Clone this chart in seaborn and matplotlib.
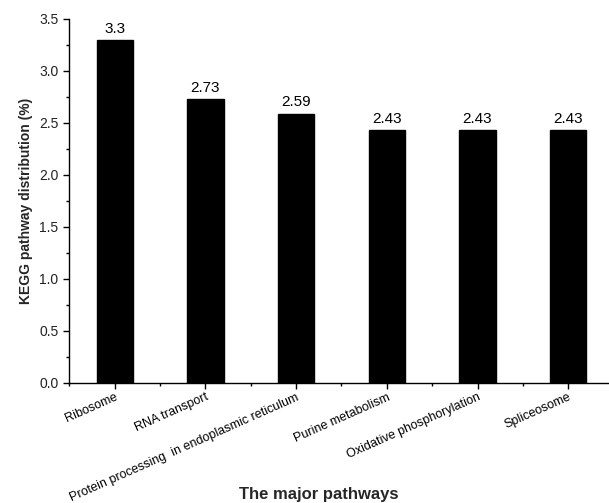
import matplotlib
matplotlib.use("Agg")
import matplotlib.pyplot as plt
import seaborn as sns
import pandas as pd
from matplotlib.ticker import MultipleLocator, FixedLocator

pathways = ["Ribosome", "RNA transport", "Protein processing  in endoplasmic reticulum",
            "Purine metabolism", "Oxidative phosphorylation", "Spliceosome"]
values = [3.3, 2.73, 2.59, 2.43, 2.43, 2.43]
value_labels = ["3.3", "2.73", "2.59", "2.43", "2.43", "2.43"]


def main():
    sns.set_theme(style="ticks")
    plt.rcParams["font.family"] = ["Liberation Sans", "DejaVu Sans"]

    df = pd.DataFrame({"pathway": pathways, "value": values})

    fig = plt.figure(figsize=(6.09, 5.03), dpi=100)
    ax = fig.add_axes([0.114, 0.2386, 0.886, 0.7237])
    sns.barplot(data=df, x="pathway", y="value", color="black", width=0.4,
                edgecolor="black", saturation=1, ax=ax)

    for i, (v, lab) in enumerate(zip(values, value_labels)):
        ax.text(i, v + 0.04, lab, ha="center", va="bottom", fontsize=11, color="black")

    ax.set_xlim(-0.5, 5.45)
    ax.set_ylim(0, 3.5)
    ax.yaxis.set_major_locator(MultipleLocator(0.5))
    ax.yaxis.set_minor_locator(MultipleLocator(0.25))
    ax.xaxis.set_minor_locator(FixedLocator([i - 0.5 for i in range(7)]))

    ax.set_xticks(range(len(pathways)))
    ax.set_xticklabels(pathways, rotation=24, ha="right", rotation_mode="anchor", fontsize=9)
    ax.tick_params(axis="y", labelsize=10, direction="out", length=4.5, width=1, colors="black")
    ax.tick_params(axis="x", direction="out", length=4, width=1, colors="black", pad=2)
    ax.tick_params(which="minor", direction="out", length=2.5, width=1, color="black")
    for lab in ax.get_yticklabels():
        lab.set_color("#222222")

    ax.set_xlabel("The major pathways", fontsize=12, fontweight="bold")
    ax.xaxis.set_label_coords(0.462, -0.286)
    ax.set_ylabel("KEGG pathway distribution (%)", fontsize=10, fontweight="bold")

    sns.despine(ax=ax, top=True, right=True)
    for s in ["left", "bottom"]:
        ax.spines[s].set_color("black")
        ax.spines[s].set_linewidth(1)

    fig.savefig("out.png", dpi=100)
    plt.close(fig)


if __name__ == "__main__":
    main()
